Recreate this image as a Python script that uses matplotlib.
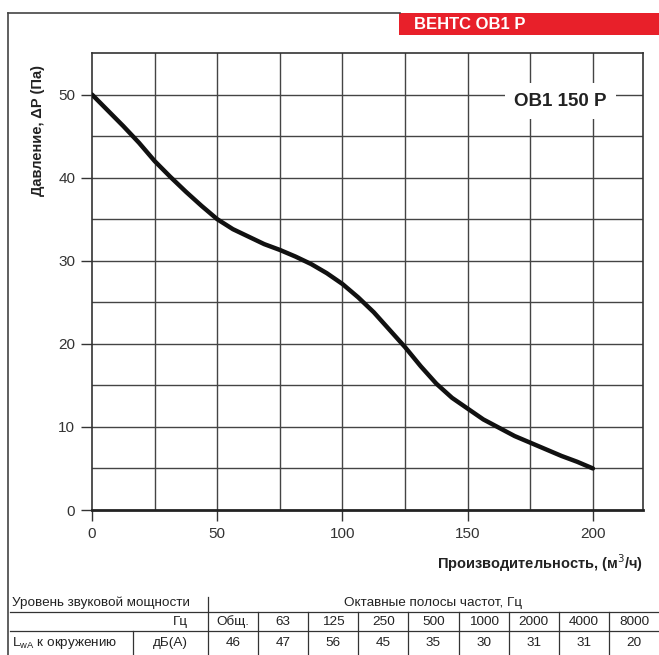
import matplotlib
matplotlib.use("Agg")
import matplotlib.pyplot as plt
from matplotlib.lines import Line2D
from matplotlib.patches import Rectangle

plt.rcParams['font.family'] = ['Liberation Sans', 'DejaVu Sans']

# ---- data ----
airflow = [0, 6.25, 12.5, 18.75, 25, 31.25, 37.5, 43.75, 50, 56.25, 62.5, 68.75, 75, 81.25,
           87.5, 93.75, 100, 106.25, 112.5, 118.75, 125, 131.25, 137.5, 143.75, 150, 156.25,
           162.5, 168.75, 175, 181.25, 187.5, 193.75, 200]
pressure = [50, 48.1, 46.2, 44.2, 42, 40.1, 38.3, 36.6, 35, 33.8, 32.9, 32.0, 31.3, 30.5,
            29.6, 28.5, 27.2, 25.6, 23.8, 21.7, 19.6, 17.3, 15.2, 13.5, 12.2, 10.9,
            9.9, 8.9, 8.1, 7.3, 6.5, 5.8, 5]

x_ticks = [0, 50, 100, 150, 200]
y_ticks = [0, 10, 20, 30, 40, 50]

band_labels = ["Общ.", "63", "125", "250", "500", "1000", "2000", "4000", "8000"]
band_values = ["46", "47", "56", "45", "35", "30", "31", "31", "20"]

title_text = "ВЕНТС ОВ1 Р"
model_text = "ОВ1 150 Р"
xlabel_text = "Производительность, (м$^3$/ч)"
ylabel_text = "Давление, \u0394P (Па)"

W, H = 659, 655
fig = plt.figure(figsize=(W / 100, H / 100), dpi=100)

def fx(px):
    return px / W

def fy(py):
    return 1 - py / H

ax = fig.add_axes([fx(92), fy(510), fx(643) - fx(92), fy(53) - fy(510)])
ax.set_xlim(0, 220)
ax.set_ylim(0, 55)

# grid
for gx in range(25, 220, 25):
    ax.axvline(gx, color='#444444', lw=1.0, zorder=1)
for gy in range(5, 55, 5):
    ax.axhline(gy, color='#444444', lw=1.0, zorder=1)

ax.plot(airflow, pressure, color='#111111', lw=3.2, solid_capstyle='round',
        solid_joinstyle='round', zorder=3)

ax.set_xticks(x_ticks)
ax.set_yticks(y_ticks)
ax.tick_params(direction='out', length=8, width=1, colors='#333333', labelsize=11, pad=4)
for s in ax.spines.values():
    s.set_color('#333333')
    s.set_linewidth(1.2)
ax.spines['bottom'].set_linewidth(2.0)
ax.spines['bottom'].set_color('#222222')

ax.text(187, 49.2, model_text, ha='center', va='center', fontsize=13.5, fontweight='bold',
        color='#222222', zorder=5,
        bbox=dict(boxstyle='square,pad=0.5', fc='white', ec='none'))

fig.text(fx(643), fy(563), xlabel_text, ha='right', va='center', fontsize=10.5,
         fontweight='bold', color='#222222')
fig.text(fx(38), fy(130), ylabel_text, ha='center', va='center', rotation=90,
         fontsize=10.5, fontweight='bold', color='#222222')

# outer frame
fig.add_artist(Line2D([fx(8), fx(8)], [fy(13), fy(655)], color='#444444', lw=1.2))
fig.add_artist(Line2D([fx(8), fx(400)], [fy(13), fy(13)], color='#444444', lw=1.2))
fig.add_artist(Rectangle((fx(399), fy(35)), fx(659) - fx(399), fy(13) - fy(35),
                         transform=fig.transFigure, color='#e8202a', lw=0))
fig.text(fx(414), fy(24.5), title_text, ha='left', va='center', fontsize=12,
         fontweight='bold', color='white')

# table
tc = '#333333'
fig.add_artist(Line2D([fx(10), fx(659)], [fy(612), fy(612)], color=tc, lw=0.9))
fig.add_artist(Line2D([fx(10), fx(659)], [fy(631), fy(631)], color=tc, lw=0.9))
fig.add_artist(Line2D([fx(208), fx(208)], [fy(597), fy(655)], color=tc, lw=0.9))
fig.add_artist(Line2D([fx(133), fx(133)], [fy(631), fy(655)], color=tc, lw=0.9))

col_w = (659 - 208) / len(band_labels)
for i in range(1, len(band_labels)):
    xx = 208 + i * col_w
    fig.add_artist(Line2D([fx(xx), fx(xx)], [fy(612), fy(655)], color=tc, lw=0.9))

fs = 9.7
fig.text(fx(12), fy(603), "Уровень звуковой мощности", ha='left', va='center', fontsize=fs, color='#222222')
fig.text(fx(433), fy(603), "Октавные полосы частот, Гц", ha='center', va='center', fontsize=fs, color='#222222')
fig.text(fx(180), fy(622), "Гц", ha='center', va='center', fontsize=fs, color='#222222')
fig.text(fx(12), fy(643), "L$_{\\mathregular{wA}}$ к окружению", ha='left', va='center', fontsize=fs, color='#222222')
fig.text(fx(170), fy(643), "дБ(А)", ha='center', va='center', fontsize=fs, color='#222222')
for i, (lab, val) in enumerate(zip(band_labels, band_values)):
    cx = 208 + (i + 0.5) * col_w
    fig.text(fx(cx), fy(622), lab, ha='center', va='center', fontsize=fs, color='#222222')
    fig.text(fx(cx), fy(643), val, ha='center', va='center', fontsize=fs, color='#222222')

fig.savefig("out.png", dpi=100)
